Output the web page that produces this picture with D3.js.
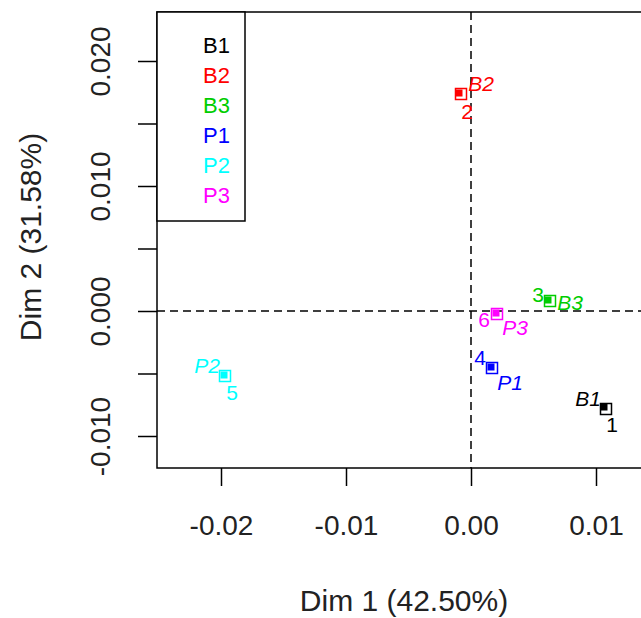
<!DOCTYPE html>
<html>
<head>
<meta charset="utf-8">
<script src="https://cdn.jsdelivr.net/npm/d3@7"></script>
<style>
  body { margin: 0; background: #fff; }
  svg text { font-family: "Liberation Sans", Arial, sans-serif; }
</style>
</head>
<body>
<div id="chart"></div>
<script>
// individual points (numbered) and group points (italic names)
var indLabels = ["1", "2", "3", "4", "5", "6"];
var indX = [0.0108, -0.0008, 0.00632, 0.00168, -0.01968, 0.00208];
var indY = [-0.00784, 0.01736, 0.0008, -0.00456, -0.0052, -0.00024];

var groupNames = ["B1", "B2", "B3", "P1", "P2", "P3"];
var groupX = [0.01064, -0.00096, 0.00616, 0.0016, -0.01976, 0.002];
var groupY = [-0.00768, 0.01744, 0.00088, -0.00448, -0.00512, -0.00016];
var groupColors = ["#000000", "#FF0000", "#00CD00", "#0000FF", "#00FFFF", "#FF00FF"];

// axis ticks
var xTicks = [-0.02, -0.01, 0.00, 0.01];
var yTicks = [-0.010, -0.005, 0.000, 0.005, 0.010, 0.015, 0.020];
var yTickLabels = ["-0.010", "", "0.000", "", "0.010", "", "0.020"];

var xTitle = "Dim 1 (42.50%)";
var yTitle = "Dim 2 (31.58%)";

// label nudges (pixels) so labels don't sit on the markers
var indNudge = [[6, 16], [6, 18], [-12, -6], [-12, -10], [7, 17], [-13, 6]];
var groupNudge = [[-16, -8], [22, -9], [22, 3], [19, 16], [-17, -9], [19, 15]];

(function drawChart() {
    var width = 641, height = 618;
    var plotLeft = 157, plotRight = 651, plotTop = 12, plotBottom = 468;

    var svg = d3.select("#chart").append("svg")
        .attr("width", width)
        .attr("height", height);

    var x = d3.scaleLinear().domain([-0.02512, 0.0144]).range([plotLeft, plotRight]);
    var y = d3.scaleLinear().domain([-0.01256, 0.02392]).range([plotBottom, plotTop]);

    var fmt2 = d3.format(".2f");

    // dashed zero lines
    svg.append("line")
        .attr("x1", x(0)).attr("x2", x(0))
        .attr("y1", plotTop).attr("y2", plotBottom)
        .attr("stroke", "#000").attr("stroke-width", 1.5)
        .attr("stroke-dasharray", "8,5");
    svg.append("line")
        .attr("x1", plotLeft).attr("x2", plotRight)
        .attr("y1", y(0)).attr("y2", y(0))
        .attr("stroke", "#000").attr("stroke-width", 1.5)
        .attr("stroke-dasharray", "8,5");

    // x axis
    var xAxis = svg.append("g")
        .attr("transform", "translate(0," + plotBottom + ")")
        .call(d3.axisBottom(x).tickValues(xTicks).tickSize(18)
            .tickFormat(function(d) { return fmt2(d).replace("\u2212", "-"); }));
    xAxis.select(".domain").remove();
    xAxis.selectAll("line").attr("stroke", "#000").attr("stroke-width", 1.5);
    xAxis.selectAll("text")
        .attr("y", 67).attr("dy", 0)
        .attr("fill", "#222")
        .style("font-size", "28px");

    // y axis
    var yAxis = svg.append("g")
        .attr("transform", "translate(" + plotLeft + ",0)")
        .call(d3.axisLeft(y).tickValues(yTicks).tickSize(19)
            .tickFormat(function(d, i) { return yTickLabels[i]; }));
    yAxis.select(".domain").remove();
    yAxis.selectAll("line").attr("stroke", "#000").attr("stroke-width", 1.5);
    yAxis.selectAll("text")
        .attr("transform", "rotate(-90)")
        .attr("x", 0).attr("y", -47).attr("dy", 0)
        .attr("text-anchor", "middle")
        .attr("fill", "#222")
        .style("font-size", "28px");

    // box
    svg.append("rect")
        .attr("x", plotLeft).attr("y", plotTop)
        .attr("width", plotRight - plotLeft).attr("height", plotBottom - plotTop)
        .attr("fill", "none").attr("stroke", "#000").attr("stroke-width", 1.5);

    // axis titles
    svg.append("text")
        .attr("x", (plotLeft + plotRight) / 2).attr("y", 611)
        .attr("text-anchor", "middle")
        .attr("fill", "#222")
        .style("font-size", "30px")
        .text(xTitle);
    svg.append("text")
        .attr("transform", "translate(41," + ((plotTop + plotBottom) / 2 - 3) + ") rotate(-90)")
        .attr("text-anchor", "middle")
        .attr("fill", "#222")
        .style("font-size", "30px")
        .text(yTitle);

    // points
    var ind = indLabels.map(function(l, i) {
        return { label: l, x: indX[i], y: indY[i], color: groupColors[i], nudge: indNudge[i] };
    });
    var grp = groupNames.map(function(n, i) {
        return { label: n, x: groupX[i], y: groupY[i], color: groupColors[i], nudge: groupNudge[i] };
    });

    var sq = 11, sqFill = 7;

    svg.selectAll(".grpPt")
        .data(grp)
        .enter()
        .append("rect")
        .attr("class", "grpPt")
        .attr("x", function(d) { return x(d.x) - sqFill / 2; })
        .attr("y", function(d) { return y(d.y) - sqFill / 2; })
        .attr("width", sqFill).attr("height", sqFill)
        .attr("fill", function(d) { return d.color; });

    svg.selectAll(".indPt")
        .data(ind)
        .enter()
        .append("rect")
        .attr("class", "indPt")
        .attr("x", function(d) { return x(d.x) - sq / 2; })
        .attr("y", function(d) { return y(d.y) - sq / 2; })
        .attr("width", sq).attr("height", sq)
        .attr("fill", "none")
        .attr("stroke", function(d) { return d.color; })
        .attr("stroke-width", 1.5);

    svg.selectAll(".indLab")
        .data(ind)
        .enter()
        .append("text")
        .attr("class", "indLab")
        .attr("x", function(d) { return x(d.x) + d.nudge[0]; })
        .attr("y", function(d) { return y(d.y) + d.nudge[1]; })
        .attr("dy", "0.35em")
        .attr("text-anchor", "middle")
        .attr("fill", function(d) { return d.color; })
        .style("font-size", "21px")
        .text(function(d) { return d.label; });

    svg.selectAll(".grpLab")
        .data(grp)
        .enter()
        .append("text")
        .attr("class", "grpLab")
        .attr("x", function(d) { return x(d.x) + d.nudge[0]; })
        .attr("y", function(d) { return y(d.y) + d.nudge[1]; })
        .attr("dy", "0.35em")
        .attr("text-anchor", "middle")
        .attr("fill", function(d) { return d.color; })
        .style("font-size", "21px")
        .style("font-style", "italic")
        .text(function(d) { return d.label; });

    // legend
    svg.append("rect")
        .attr("x", plotLeft).attr("y", plotTop)
        .attr("width", 88).attr("height", 209)
        .attr("fill", "#fff").attr("stroke", "#000").attr("stroke-width", 1.5);

    svg.selectAll(".legend")
        .data(groupNames)
        .enter()
        .append("text")
        .attr("class", "legend")
        .attr("x", 203)
        .attr("y", function(d, i) { return 53 + i * 30; })
        .attr("fill", function(d, i) { return groupColors[i]; })
        .style("font-size", "22px")
        .text(function(d) { return d; });
})();
</script>
</body>
</html>
